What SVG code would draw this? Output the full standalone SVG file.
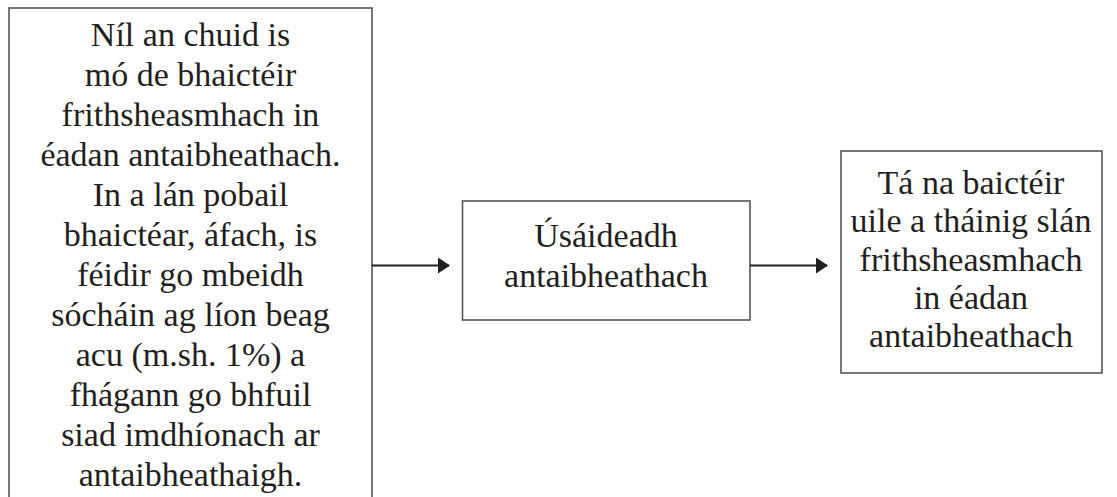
<svg xmlns="http://www.w3.org/2000/svg" width="1117" height="497" viewBox="0 0 1117 497">
<style>
.box{fill:#fff;stroke:#555;stroke-width:1.6}
.t{font-family:"Liberation Serif","Times New Roman",serif;font-size:34px;fill:#231f20;text-anchor:middle}
.conn{stroke:#231f20;stroke-width:2.2;fill:none}
</style>
<defs>
<marker id="ah" markerUnits="userSpaceOnUse" markerWidth="12" markerHeight="16" refX="11" refY="8" orient="auto">
<path d="M0,0 L12,8 L0,16 Z" fill="#231f20"/>
</marker>
</defs>
<rect width="1117" height="497" fill="#fff"/>
<g id="node-left">
<rect class="box" x="9" y="8" width="363" height="500"/>
<text class="t" x="190.5" y="46">Níl an chuid is</text>
<text class="t" x="190.5" y="86">mó de bhaictéir</text>
<text class="t" x="190.5" y="126">frithsheasmhach in</text>
<text class="t" x="190.5" y="166">éadan antaibheathach.</text>
<text class="t" x="190.5" y="206">In a lán pobail</text>
<text class="t" x="190.5" y="246">bhaictéar, áfach, is</text>
<text class="t" x="190.5" y="286">féidir go mbeidh</text>
<text class="t" x="190.5" y="326">sócháin ag líon beag</text>
<text class="t" x="190.5" y="366">acu (m.sh. 1%) a</text>
<text class="t" x="190.5" y="406">fhágann go bhfuil</text>
<text class="t" x="190.5" y="446">siad imdhíonach ar</text>
<text class="t" x="190.5" y="486">antaibheathaigh.</text>
</g>
<g id="node-middle">
<rect class="box" x="462.5" y="201" width="287.5" height="119"/>
<text class="t" x="606" y="247">Úsáideadh</text>
<text class="t" x="606" y="287">antaibheathach</text>
</g>
<g id="node-right">
<rect class="box" x="841" y="151" width="261" height="222"/>
<text class="t" x="971" y="194">Tá na baictéir</text>
<text class="t" x="971" y="232">uile a tháinig slán</text>
<text class="t" x="971" y="271">frithsheasmhach</text>
<text class="t" x="971" y="309">in éadan</text>
<text class="t" x="971" y="347">antaibheathach</text>
</g>
<g id="connectors">
<line class="conn" x1="372" y1="265.5" x2="449" y2="265.5" marker-end="url(#ah)"/>
<line class="conn" x1="750" y1="265.5" x2="827" y2="265.5" marker-end="url(#ah)"/>
</g>
</svg>
